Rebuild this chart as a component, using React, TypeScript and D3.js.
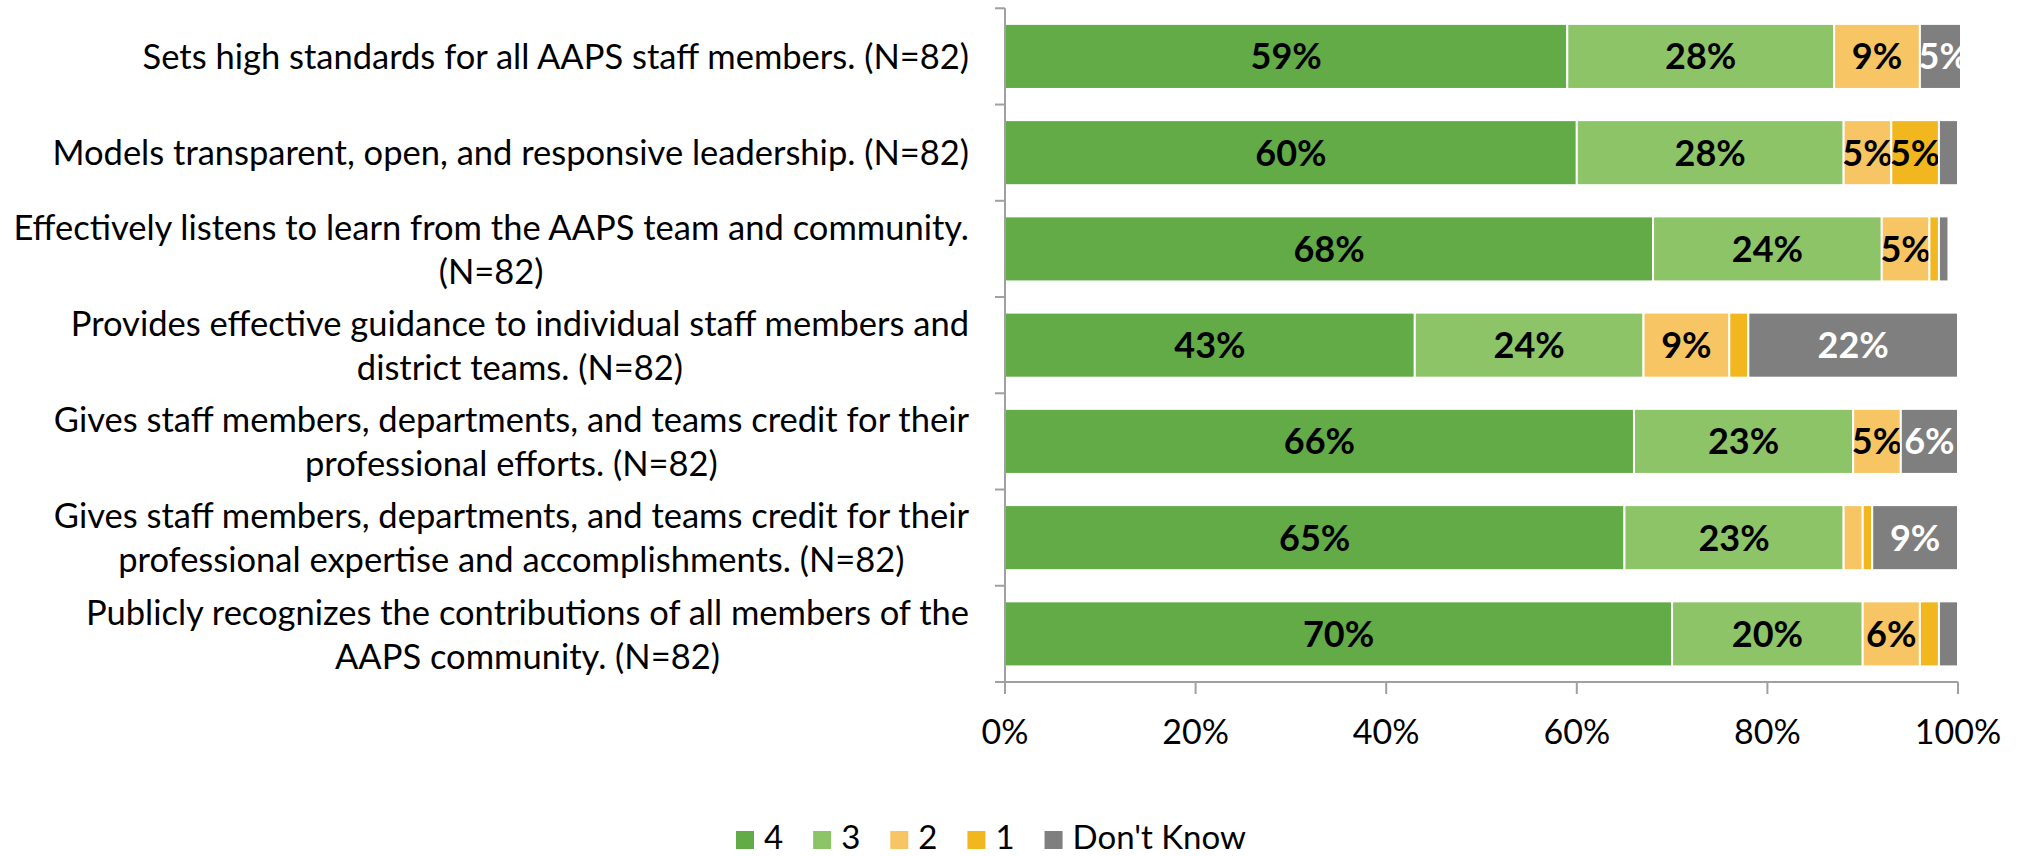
import React, { useEffect, useRef } from 'react';
import * as d3 from 'd3';

const categories: string[] = [
  'Sets high standards for all AAPS staff members. (N=82)',
  'Models transparent, open, and responsive leadership. (N=82)',
  'Effectively listens to learn from the AAPS team and community.\n(N=82)',
  'Provides effective guidance to individual staff members and\ndistrict teams. (N=82)',
  'Gives staff members, departments, and teams credit for their\nprofessional efforts. (N=82)',
  'Gives staff members, departments, and teams credit for their\nprofessional expertise and accomplishments. (N=82)',
  'Publicly recognizes the contributions of all members of the\nAAPS community. (N=82)',
];

const seriesNames: string[] = ['4', '3', '2', '1', "Don't Know"];
const s4: number[] = [59, 60, 68, 43, 66, 65, 70];
const s3: number[] = [28, 28, 24, 24, 23, 23, 20];
const s2: number[] = [9, 5, 5, 9, 5, 2, 6];
const s1: number[] = [0, 5, 1, 2, 0, 1, 2];
const sDK: number[] = [5, 2, 1, 22, 6, 9, 2];

const xTicks: number[] = [0, 20, 40, 60, 80, 100];

const COLORS = ['#62AB47', '#8DC468', '#F7C563', '#F2B71E', '#7F7F7F'];
const LABEL_COLORS = ['#000', '#000', '#000', '#000', '#fff'];
const FONT = 'Lato, "Open Sans", sans-serif';

const W = 2021;
const H = 856;
const PL = 1005, PR = 1958, PT = 8.3, PB = 682;

export default function App() {
  const ref = useRef<SVGSVGElement>(null);

  useEffect(() => {
    const svg = d3.select(ref.current as SVGSVGElement);
    svg.selectAll('*').remove();

    const idx = categories.map((_, i) => String(i));
    const x = d3.scaleLinear().domain([0, 100]).range([PL, PR]);
    const yBand = d3.scaleBand<string>().domain(idx).range([PT, PB]).paddingInner(0.324).paddingOuter(0.162);
    const ySlot = d3.scaleBand<string>().domain(idx).range([PT, PB]).padding(0);

    const series = [s4, s3, s2, s1, sDK];
    const rows = categories.map((_, i) => {
      const o: any = { key: String(i) };
      seriesNames.forEach((n, k) => (o[n] = series[k][i]));
      return o;
    });
    const stacked = d3.stack<any>().keys(seriesNames)(rows);

    svg.append('defs').append('clipPath').attr('id', 'plotClip')
      .append('rect').attr('x', 0).attr('y', 0).attr('width', PR + 2).attr('height', H);

    const g = svg.append('g').attr('clip-path', 'url(#plotClip)');
    stacked.forEach((layer, k) => {
      layer.forEach((d, i) => {
        const v = d[1] - d[0];
        if (v <= 0) return;
        const yy = yBand(String(i)) as number;
        g.append('rect')
          .attr('x', x(d[0]))
          .attr('y', yy)
          .attr('width', x(d[1]) - x(d[0]))
          .attr('height', yBand.bandwidth())
          .attr('fill', COLORS[k])
          .attr('stroke', '#fff')
          .attr('stroke-width', 2);
        if (v >= 5) {
          g.append('text')
            .attr('x', (x(d[0]) + x(d[1])) / 2)
            .attr('y', yy + yBand.bandwidth() / 2 + 13)
            .attr('text-anchor', 'middle')
            .attr('font-family', FONT)
            .attr('font-weight', 'bold')
            .attr('font-size', 36)
            .attr('fill', LABEL_COLORS[k])
            .text(`${Math.round(v)}%`);
        }
      });
    });

    const axisColor = '#A0A0A0';
    // y axis
    svg.append('line').attr('x1', PL).attr('x2', PL).attr('y1', PT).attr('y2', PB)
      .attr('stroke', axisColor).attr('stroke-width', 2);
    const bounds = idx.map((k) => ySlot(k) as number).concat([PB]);
    bounds.forEach((b) => {
      svg.append('line').attr('x1', PL - 10).attr('x2', PL).attr('y1', b).attr('y2', b)
        .attr('stroke', axisColor).attr('stroke-width', 2);
    });
    // x axis
    svg.append('line').attr('x1', PL).attr('x2', PR).attr('y1', PB).attr('y2', PB)
      .attr('stroke', axisColor).attr('stroke-width', 2);
    xTicks.forEach((t) => {
      svg.append('line').attr('x1', x(t)).attr('x2', x(t)).attr('y1', PB).attr('y2', PB + 12)
        .attr('stroke', axisColor).attr('stroke-width', 2);
      svg.append('text').attr('x', x(t)).attr('y', 744).attr('text-anchor', 'middle')
        .attr('font-family', FONT).attr('font-size', 34).attr('fill', '#000').text(`${t}%`);
    });

    // category labels
    const LABEL_RIGHT = 969;
    const LINE_H = 44;
    categories.forEach((c, i) => {
      const lines = c.split('\n');
      const center = (ySlot(String(i)) as number) + ySlot.bandwidth() / 2;
      const tg = svg.append('g');
      const texts = lines.map((ln, j) =>
        tg.append('text')
          .attr('y', center + 12.7 + (j - (lines.length - 1) / 2) * LINE_H)
          .attr('text-anchor', 'middle')
          .attr('font-family', FONT)
          .attr('font-size', 34.5)
          .attr('fill', '#000')
          .text(ln)
      );
      const widths = texts.map((t) => (t.node() as SVGTextElement).getComputedTextLength());
      const maxW = Math.max(...widths);
      texts.forEach((t) => t.attr('x', LABEL_RIGHT - maxW / 2));
    });

    // legend
    let lx = 736;
    const ly = 831;
    seriesNames.forEach((n, k) => {
      svg.append('rect').attr('x', lx).attr('y', ly).attr('width', 18).attr('height', 18).attr('fill', COLORS[k]);
      const t = svg.append('text').attr('x', lx + 28).attr('y', 849)
        .attr('font-family', FONT).attr('font-size', 33).attr('fill', '#000').text(n);
      const w = (t.node() as SVGTextElement).getComputedTextLength();
      lx = lx + 28 + w + 30;
    });
  }, []);

  return (
    <svg
      ref={ref}
      width={W}
      height={H}
      viewBox={`0 0 ${W} ${H}`}
      style={{ position: 'absolute', left: 0, top: 0, display: 'block', background: '#fff' }}
    />
  );
}
